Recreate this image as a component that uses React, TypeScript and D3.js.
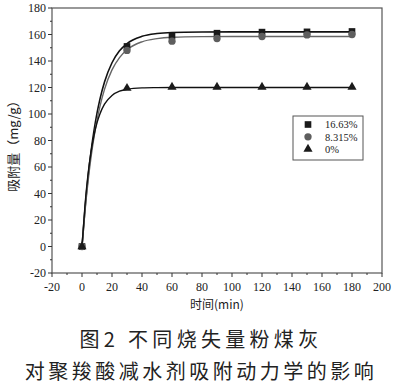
import * as d3 from 'd3';

// measured points (min, mg/g)
const times = [0, 30, 60, 90, 120, 150, 180];
const loss1663 = [0, 151, 159, 161, 161.8, 162, 162.3];
const loss8315 = [0, 148, 155, 157, 158.5, 159.7, 160];
const loss0 = [0, 119.5, 120.3, 120.3, 120.3, 120.3, 120.3];

// fitted kinetic curves
const fitTimes = [0, 2, 4, 6, 8, 10, 12, 15, 20, 25, 30, 40, 50, 60, 80, 100, 120, 150, 180];
const fit1663 = [0, 28.5, 52.2, 71.5, 87.4, 100.6, 111.4, 124.2, 138.7, 147.7, 153.2, 158.6, 160.7, 161.5, 161.9, 162, 162, 162, 162];
const fit8315 = [0, 26.6, 48.8, 67.2, 82.6, 95.3, 105.9, 118.6, 133.3, 142.6, 148.5, 154.5, 156.9, 157.9, 158.4, 158.5, 158.5, 158.5, 158.5];
const fit0 = [0, 31.1, 54.2, 71.2, 83.9, 93.3, 100.2, 107.4, 114.0, 117.2, 118.7, 119.7, 119.9, 120, 120, 120, 120, 120, 120];

const xTicks = [-20, 0, 20, 40, 60, 80, 100, 120, 140, 160, 180, 200];
const yTicks = [-20, 0, 20, 40, 60, 80, 100, 120, 140, 160, 180];
const legendLabels = ['16.63%', '8.315%', '0%'];

const numFont = '"Liberation Serif", "DejaVu Serif", serif';
const cjkFont = '"Noto Sans CJK SC", sans-serif';

export default function App() {
  const W = 403;
  const H = 387;
  const x = d3.scaleLinear().domain([-20, 200]).range([52, 382]);
  const y = d3.scaleLinear().domain([-20, 180]).range([273, 8]);

  const line = d3.line<[number, number]>()
    .x(d => x(d[0]))
    .y(d => y(d[1]))
    .curve(d3.curveMonotoneX);

  const fits = [
    { vals: fit1663, color: '#111', width: 1.6 },
    { vals: fit8315, color: '#666', width: 1.4 },
    { vals: fit0, color: '#111', width: 1.4 },
  ];

  const square = d3.symbol(d3.symbolSquare, 44)();
  const circle = d3.symbol(d3.symbolCircle, 42)();
  const triangle = d3.symbol(d3.symbolTriangle, 36)();

  const series = [
    { vals: loss1663, path: square, color: '#1a1a1a' },
    { vals: loss8315, path: circle, color: '#5e5e5e' },
    { vals: loss0, path: triangle, color: '#1a1a1a' },
  ];

  const xMinor = d3.range(-10, 200, 20);
  const yMinor = d3.range(-10, 180, 20);

  return (
    <svg width={W} height={H} style={{ position: 'absolute', left: 0, top: 0, background: '#fff' }}>
      {/* frame */}
      <rect x={52} y={8} width={330} height={265} fill="none" stroke="#555" strokeWidth={1.2} />

      {/* x ticks */}
      {xTicks.map(t => (
        <g key={'x' + t}>
          <line x1={x(t)} x2={x(t)} y1={273} y2={277} stroke="#333" strokeWidth={1} />
          <text x={x(t)} y={291} textAnchor="middle" fontSize={12} fontFamily={numFont} fill="#222">{t}</text>
        </g>
      ))}
      {xMinor.map(t => (
        <line key={'xm' + t} x1={x(t)} x2={x(t)} y1={273} y2={275} stroke="#333" strokeWidth={1} />
      ))}

      {/* y ticks */}
      {yTicks.map(t => (
        <g key={'y' + t}>
          <line x1={48} x2={52} y1={y(t)} y2={y(t)} stroke="#333" strokeWidth={1} />
          <text x={46} y={y(t) + 4} textAnchor="end" fontSize={12} fontFamily={numFont} fill="#222">{t}</text>
        </g>
      ))}
      {yMinor.map(t => (
        <line key={'ym' + t} x1={50} x2={52} y1={y(t)} y2={y(t)} stroke="#333" strokeWidth={1} />
      ))}

      {/* fitted curves */}
      {fits.map((f, i) => (
        <path key={'f' + i}
          d={line(fitTimes.map((t, j) => [t, f.vals[j]] as [number, number])) || ''}
          fill="none" stroke={f.color} strokeWidth={f.width} />
      ))}

      {/* data markers */}
      {series.map((s, i) => (
        <g key={'s' + i}>
          {times.map((t, j) => (
            <path key={j} d={s.path || ''} transform={`translate(${x(t)},${y(s.vals[j])})`} fill={s.color} />
          ))}
        </g>
      ))}

      {/* legend */}
      <rect x={293} y={116} width={70} height={44} fill="#fff" stroke="#555" strokeWidth={1} />
      {series.map((s, i) => (
        <g key={'l' + i}>
          <path d={s.path || ''} transform={`translate(308,${124.5 + i * 12.3})`} fill={s.color} />
          <text x={325} y={128.3 + i * 12.3} fontSize={10.5} fontFamily={numFont} fill="#222">{legendLabels[i]}</text>
        </g>
      ))}

      {/* axis titles */}
      <text x={217} y={309} textAnchor="middle" fontSize={12} fontFamily={cjkFont} fill="#222">时间(min)</text>
      <text transform="translate(18,143) rotate(-90)" textAnchor="middle" fontSize={13} fontFamily={cjkFont} fill="#222">吸附量（mg/g）</text>

      {/* caption */}
      <text x={201} y={347} textAnchor="middle" fontSize={20} letterSpacing={4.3} fontFamily={cjkFont} fill="#222">图2 不同烧失量粉煤灰</text>
      <text x={201} y={379} textAnchor="middle" fontSize={20} letterSpacing={3.5} fontFamily={cjkFont} fill="#222">对聚羧酸减水剂吸附动力学的影响</text>
    </svg>
  );
}
